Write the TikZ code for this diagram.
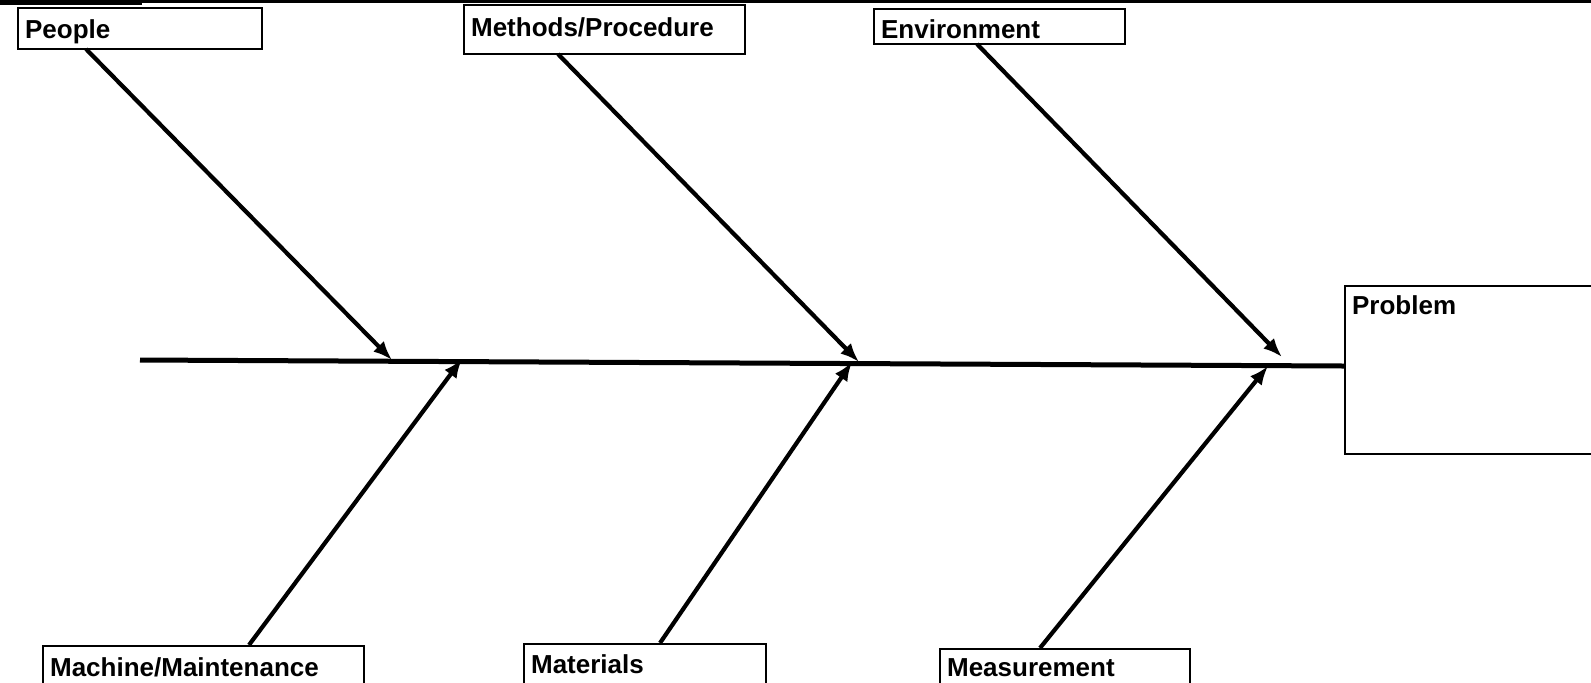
\documentclass[tikz,border=0pt]{standalone}
\usepackage{fontspec}
\setmainfont{Liberation Sans}
\usetikzlibrary{arrows.meta}
\begin{document}
\begin{tikzpicture}[
    x=0.5pt, y=-0.5pt,
    cause/.style={draw, line width=1.1pt, anchor=north west, inner xsep=3.5pt, inner ysep=0pt, align=left, font=\fontsize{13}{15}\selectfont\bfseries},
    bone/.style={draw, -{Latex[length=9.5pt,width=7.5pt]}, line width=2.1pt},
    spine/.style={draw, line width=2.5pt}
]
    \useasboundingbox (0,0) rectangle (1591,682);
    \clip (0,0) rectangle (1591,682);
    \fill (0,0) rectangle (142,5);
    \fill (142,0) rectangle (1591,3);

    \node [cause, text width=115pt, text height=15pt, text depth=5.5pt] (people) at (17,7) {People};
    \node [cause, text width=133.5pt, text height=15.5pt, text depth=9pt] (methods) at (463,4) {Methods/Procedure};
    \node [cause, text width=118.5pt, text height=14.5pt, text depth=3pt] (environment) at (873,8) {Environment};

    \node [cause, text width=121pt, text height=14pt, text depth=70pt] (problem) at (1344,285) {Problem};

    \node [cause, text width=153.5pt, text height=15pt, text depth=12.5pt] (machine) at (42,645) {Machine/Maintenance};
    \node [cause, text width=114pt, text height=14.5pt, text depth=14pt] (materials) at (523,643) {Materials};
    \node [cause, text width=118pt, text height=13.5pt, text depth=12.5pt] (measurement) at (939,648) {Measurement};

    \coordinate (spine_start) at (140,360);
    \coordinate (spine_end) at (1344,366);

    \coordinate (people_tail) at (86,49);
    \coordinate (people_head) at (392,360);
    \coordinate (methods_tail) at (558,54);
    \coordinate (methods_head) at (859,362);
    \coordinate (environment_tail) at (977,44);
    \coordinate (environment_head) at (1282,357);
    \coordinate (machine_tail) at (249,645);
    \coordinate (machine_head) at (462,359);
    \coordinate (materials_tail) at (660,643);
    \coordinate (materials_head) at (852,362);
    \coordinate (measurement_tail) at (1040,648);
    \coordinate (measurement_head) at (1268,366);

    \draw [spine] (spine_start) -- (spine_end);

    \draw [bone] (people_tail) -- (people_head);
    \draw [bone] (methods_tail) -- (methods_head);
    \draw [bone] (environment_tail) -- (environment_head);
    \draw [bone] (machine_tail) -- (machine_head);
    \draw [bone] (materials_tail) -- (materials_head);
    \draw [bone] (measurement_tail) -- (measurement_head);
\end{tikzpicture}
\end{document}
